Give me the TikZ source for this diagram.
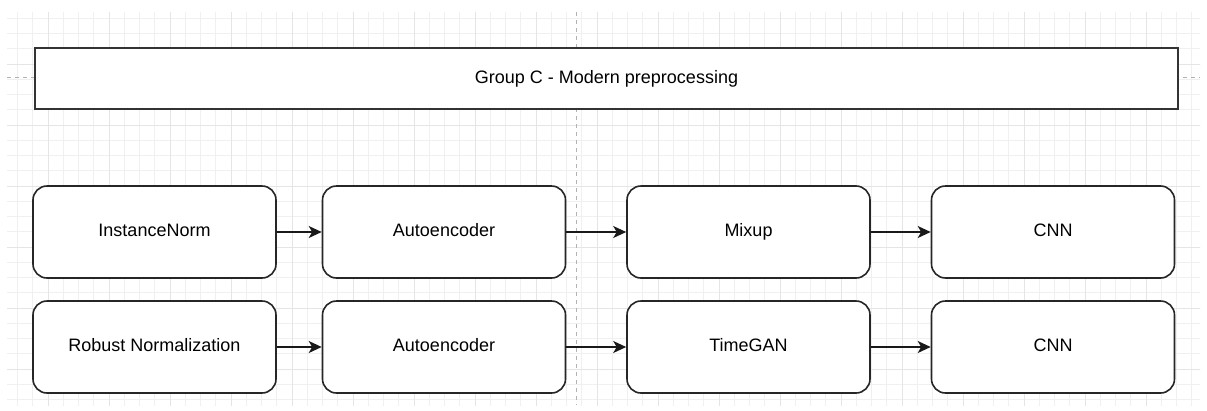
\documentclass[tikz,border=0pt]{standalone}
\usepackage{fontspec}
\setmainfont{Liberation Sans}
\usetikzlibrary{arrows.meta}
\tikzset{
  minorgrid/.style={draw=black!6, line width=0.9pt},
  majorgrid/.style={draw=black!10, line width=1pt},
  pagebreak/.style={draw=black!30, dashed, dash pattern=on 4pt off 4pt, line width=0.8pt},
  stepbox/.style={draw=black!85, line width=1.6pt, fill=white, rounded corners=14pt,
    minimum width=243pt, minimum height=92pt, inner sep=0pt,
    text height=13pt, text depth=4pt, font=\fontsize{18}{21}\selectfont},
  titlebox/.style={draw=black!80, line width=1.8pt, fill=white,
    minimum width=1143pt, minimum height=61pt, inner sep=0pt,
    text height=13pt, text depth=4pt, font=\fontsize{18}{21}\selectfont},
  flow/.style={draw=black!90, line width=1.5pt, -{Stealth[length=13pt,width=12pt,inset=3.5pt]}}
}
\begin{document}
\begin{tikzpicture}[x=1pt,y=-1pt]
  \useasboundingbox (0,0) rectangle (1207,410);
  \fill[white] (0,0) rectangle (1207,410);
  % background grid
  \begin{scope}
    \clip (7,12) rectangle (1200,405);
    \foreach \i in {-3,...,80} {
      \draw[minorgrid] ({48+15.25*\i},0) -- ({48+15.25*\i},410);
    }
    \foreach \i in {-8,...,19} {
      \draw[minorgrid] (0,{125+15.25*\i}) -- (1207,{125+15.25*\i});
    }
    \foreach \i in {-1,...,20} {
      \draw[majorgrid] ({48+61*\i},0) -- ({48+61*\i},410);
    }
    \foreach \i in {-2,...,5} {
      \draw[majorgrid] (0,{125+61*\i}) -- (1207,{125+61*\i});
    }
    % page breaks
    \draw[pagebreak] (576,12) -- (576,405);
    \draw[pagebreak] (7,77) -- (1200,77);
  \end{scope}

  % title bar
  \node[titlebox] (title) at (606.5,78.5) {Group C - Modern preprocessing};

  % first pipeline
  \node[stepbox] (a1) at (154.5,232) {InstanceNorm};
  \node[stepbox] (b1) at (444,232) {Autoencoder};
  \node[stepbox] (c1) at (748.5,232) {Mixup};
  \node[stepbox] (d1) at (1053,232) {CNN};

  % second pipeline
  \node[stepbox] (a2) at (154.5,347) {Robust Normalization};
  \node[stepbox] (b2) at (444,347) {Autoencoder};
  \node[stepbox] (c2) at (748.5,347) {TimeGAN};
  \node[stepbox] (d2) at (1053,347) {CNN};

  \draw[flow] (a1) -- (b1);
  \draw[flow] (b1) -- (c1);
  \draw[flow] (c1) -- (d1);
  \draw[flow] (a2) -- (b2);
  \draw[flow] (b2) -- (c2);
  \draw[flow] (c2) -- (d2);
\end{tikzpicture}
\end{document}
